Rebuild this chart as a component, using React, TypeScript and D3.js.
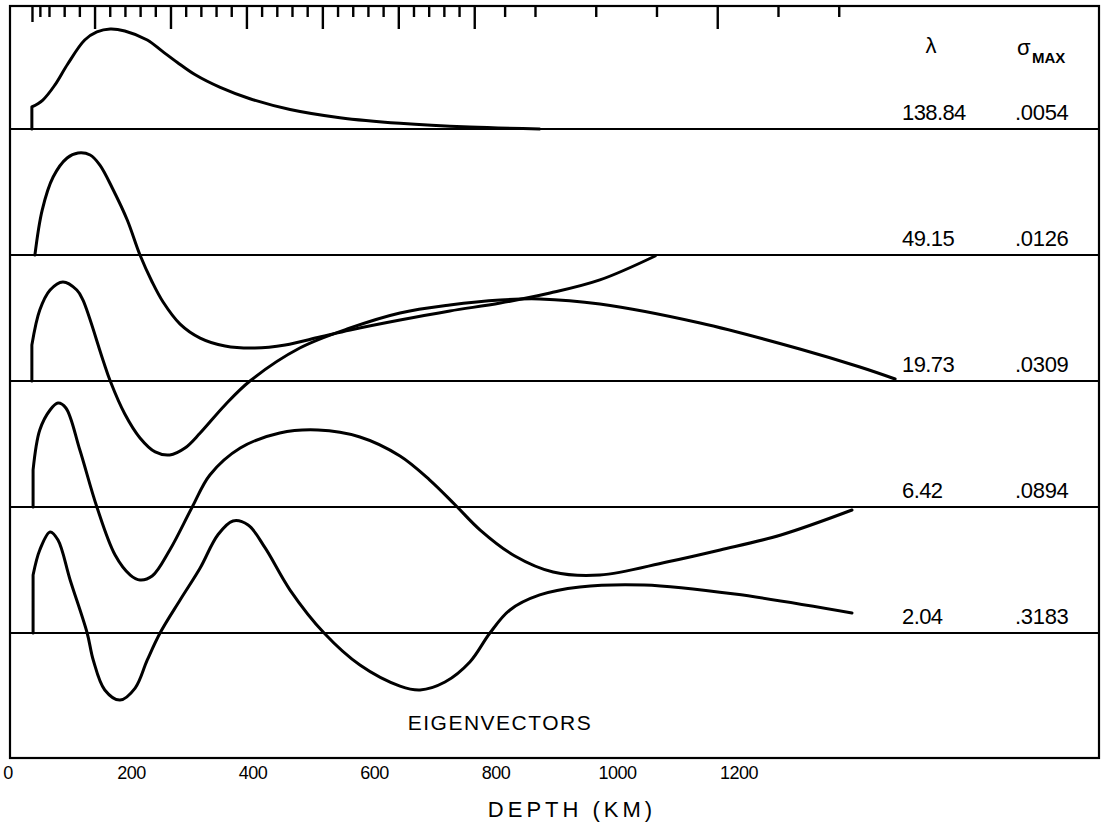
import React from "react";
import * as d3 from "d3";

// Depth axis labels (km)
const depthTicks = [0, 200, 400, 600, 800, 1000, 1200];

// Layer boundaries of the model (km), drawn as ticks along the top edge
const layerBoundaries = [
  37, 50, 65, 90, 115, 140, 165, 190, 215, 240, 265, 290, 315, 340, 365, 390,
  415, 440, 465, 490, 515, 540, 565, 590, 615, 640, 665, 690, 715, 740, 765,
  815, 865, 965, 1065, 1165, 1265, 1365,
];
const majorBoundaries = [140, 265, 390, 515, 640, 765, 1165];
const firstBoundary = 37;

// Eigenvalues and maximum standard deviations for each eigenvector
const lambdas = ["138.84", "49.15", "19.73", "6.42", "2.04"];
const sigmaMax = [".0054", ".0126", ".0309", ".0894", ".3183"];

// Eigenvectors: [depth km, relative amplitude]
const vec1: [number, number][] = [
  [36, 0.175], [54, 0.23], [74, 0.35], [95, 0.516], [123, 0.706],
  [143, 0.77], [165, 0.794], [189, 0.778], [226, 0.706], [250, 0.62],
  [275, 0.53], [305, 0.43], [346, 0.33], [395, 0.24], [461, 0.155],
  [543, 0.09], [642, 0.045], [757, 0.015], [872, 0],
];
const vec2: [number, number][] = [
  [41, 0], [53, 0.357], [71, 0.619], [94, 0.77], [112, 0.81], [132, 0.794],
  [148, 0.714], [170, 0.516], [193, 0.278], [214, 0], [234, -0.214],
  [252, -0.373], [280, -0.548], [313, -0.659], [354, -0.722], [403, -0.738],
  [453, -0.714], [510, -0.651], [560, -0.595], [642, -0.516], [724, -0.444],
  [807, -0.381], [889, -0.302], [971, -0.198], [1062, -0.008],
];
const vec3: [number, number][] = [
  [36, 0.286], [49, 0.563], [66, 0.722], [87, 0.786], [110, 0.722],
  [120, 0.643], [153, 0.167], [165, 0], [189, -0.262], [214, -0.452],
  [239, -0.563], [263, -0.587], [288, -0.532], [313, -0.413], [354, -0.19],
  [395, 0], [477, 0.262], [560, 0.421], [642, 0.54], [724, 0.603],
  [807, 0.643], [872, 0.651], [971, 0.611], [1136, 0.46], [1300, 0.254],
  [1399, 0.111], [1457, 0.016],
];
const vec4: [number, number][] = [
  [38, 0.294], [49, 0.611], [66, 0.77], [79, 0.825], [92, 0.786],
  [115, 0.452], [143, 0], [173, -0.381], [198, -0.54], [214, -0.579],
  [234, -0.548], [263, -0.341], [300, 0], [329, 0.254], [379, 0.468],
  [444, 0.587], [507, 0.611], [576, 0.556], [642, 0.405], [691, 0.214],
  [733, 0.016], [774, -0.183], [831, -0.389], [894, -0.516], [971, -0.54],
  [1081, -0.437], [1169, -0.341], [1269, -0.222], [1386, -0.024],
];
const vec5: [number, number][] = [
  [38, 0.46], [49, 0.659], [66, 0.802], [79, 0.738], [99, 0.421], [127, 0],
  [137, -0.214], [156, -0.452], [181, -0.532], [206, -0.437], [226, -0.214],
  [247, 0], [280, 0.262], [313, 0.516], [342, 0.778], [367, 0.889],
  [392, 0.857], [420, 0.675], [461, 0.341], [517, 0], [576, -0.254],
  [642, -0.421], [675, -0.452], [716, -0.389], [757, -0.23], [790, 0],
  [823, 0.183], [872, 0.302], [938, 0.365], [1044, 0.381], [1193, 0.309],
  [1386, 0.159],
];
const vectors = [vec1, vec2, vec3, vec4, vec5];

const W = 1107;
const H = 822;
const frame = { left: 10, right: 1099, top: 6, bottom: 758 };
const firstBase = 129;
const bandStep = 126;
const font = "'Liberation Sans', Arial, sans-serif";

export default function App() {
  const x = d3.scaleLinear().domain([0, 1200]).range([10, 739]);
  const amp = d3.scaleLinear().domain([0, 1]).range([0, bandStep]);
  const baseline = (i: number) => firstBase + i * bandStep;

  const paths = vectors.map((vec, i) => {
    const b = baseline(i);
    const line = d3
      .line<[number, number]>()
      .x((p) => x(p[0]))
      .y((p) => b - amp(p[1]))
      .curve(d3.curveCatmullRom.alpha(0.5));
    const body = line(vec) || "";
    const [d0, v0] = vec[0];
    // vertical stub from the baseline up to the first value
    return v0 !== 0 ? `M${x(d0)},${b}L${body.slice(1)}` : body;
  });

  return (
    <svg width={W} height={H} style={{ display: "block", position: "absolute", left: 0, top: 0 }}>
      <rect width={W} height={H} fill="#fff" />
      {/* frame */}
      <rect
        x={frame.left}
        y={frame.top}
        width={frame.right - frame.left}
        height={frame.bottom - frame.top}
        fill="none"
        stroke="#000"
        strokeWidth={2.2}
      />
      {/* layer ticks along the top */}
      {layerBoundaries.map((d) => {
        const len = majorBoundaries.includes(d) ? 23 : d === firstBoundary ? 16 : 11;
        return (
          <line
            key={d}
            x1={x(d)}
            x2={x(d)}
            y1={frame.top}
            y2={frame.top + len}
            stroke="#000"
            strokeWidth={2.4}
          />
        );
      })}
      {/* baselines */}
      {vectors.map((_, i) => (
        <line
          key={i}
          x1={frame.left}
          x2={frame.right}
          y1={baseline(i)}
          y2={baseline(i)}
          stroke="#000"
          strokeWidth={2}
        />
      ))}
      {/* eigenvectors */}
      {paths.map((p, i) => (
        <path
          key={i}
          d={p}
          fill="none"
          stroke="#000"
          strokeWidth={3}
          strokeLinejoin="round"
          strokeLinecap="round"
        />
      ))}
      {/* column headers */}
      <text x={931} y={53} fontFamily={font} fontSize={22} textAnchor="middle" fill="#000">
        λ
      </text>
      <text x={1017} y={55} fontFamily={font} fontSize={22} fill="#000">
        σ
      </text>
      <text x={1032} y={63} fontFamily={font} fontSize={15} fontWeight="bold" fill="#000">
        MAX
      </text>
      {/* eigenvalues and sigma max */}
      {lambdas.map((l, i) => (
        <text
          key={l}
          x={902}
          y={baseline(i) - 9}
          fontFamily={font}
          fontSize={22}
          letterSpacing={-0.6}
          fill="#000"
        >
          {l}
        </text>
      ))}
      {sigmaMax.map((s, i) => (
        <text
          key={s}
          x={1015}
          y={baseline(i) - 9}
          fontFamily={font}
          fontSize={22}
          letterSpacing={-0.3}
          fill="#000"
        >
          {s}
        </text>
      ))}
      <text x={500} y={730} fontFamily={font} fontSize={21} textAnchor="middle" letterSpacing={1.5} fill="#000">
        EIGENVECTORS
      </text>
      {/* depth axis labels */}
      {depthTicks.map((t) => (
        <text
          key={t}
          x={t === 0 ? 8 : x(t)}
          y={779}
          fontFamily={font}
          fontSize={18}
          textAnchor="middle"
          letterSpacing={-0.5}
          fill="#000"
        >
          {t}
        </text>
      ))}
      <text x={572} y={817} fontFamily={font} fontSize={22} textAnchor="middle" letterSpacing={4} fill="#000">
        DEPTH  (KM)
      </text>
    </svg>
  );
}
